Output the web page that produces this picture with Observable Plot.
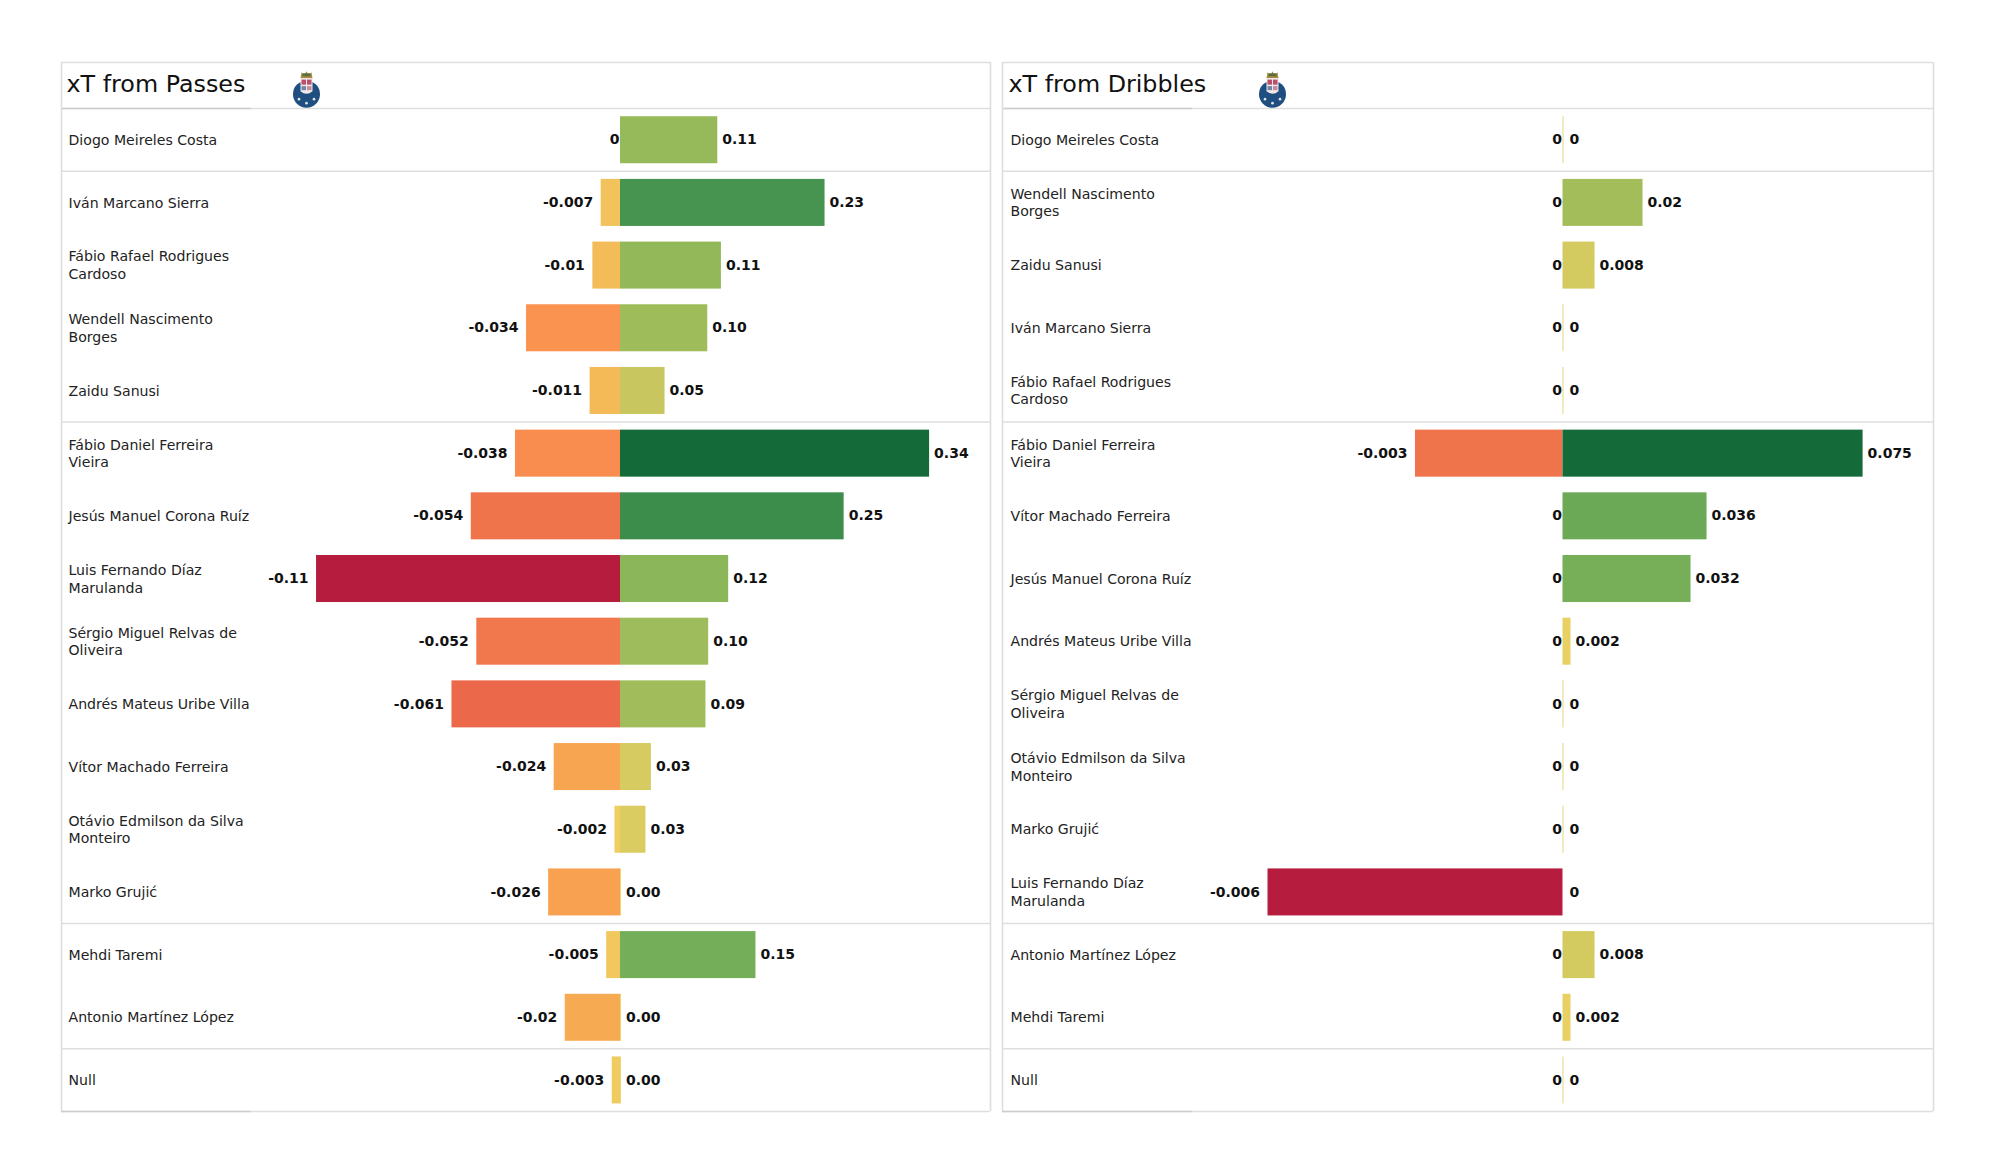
<!DOCTYPE html>
<html>
<head>
<meta charset="utf-8">
<script src="https://cdn.jsdelivr.net/npm/d3@7"></script>
<script src="https://cdn.jsdelivr.net/npm/@observablehq/plot@0.6"></script>
<style>
  html, body { margin: 0; padding: 0; background: #fff; }
  #page { position: relative; width: 2000px; height: 1175px; overflow: hidden; }
  #page svg { position: absolute; left: 0; top: 0; }
</style>
</head>
<body>
<div id="page"></div>
<script>
// Passes panel
const passNames = ["Diogo Meireles Costa","Iván Marcano Sierra","Fábio Rafael Rodrigues\nCardoso","Wendell Nascimento\nBorges","Zaidu Sanusi","Fábio Daniel Ferreira\nVieira","Jesús Manuel Corona Ruíz","Luis Fernando Díaz\nMarulanda","Sérgio Miguel Relvas de\nOliveira","Andrés Mateus Uribe Villa","Vítor Machado Ferreira","Otávio Edmilson da Silva\nMonteiro","Marko Grujić","Mehdi Taremi","Antonio Martínez López","Null"];
const passPos = [0.107,0.225,0.111,0.096,0.049,0.34,0.246,0.119,0.097,0.094,0.034,0.028,0.001,0.149,0.001,0.001];
const passNeg = [0,-0.007,-0.01,-0.034,-0.011,-0.038,-0.054,-0.11,-0.052,-0.061,-0.024,-0.002,-0.026,-0.005,-0.02,-0.003];
// Dribbles panel
const dribNames = ["Diogo Meireles Costa","Wendell Nascimento\nBorges","Zaidu Sanusi","Iván Marcano Sierra","Fábio Rafael Rodrigues\nCardoso","Fábio Daniel Ferreira\nVieira","Vítor Machado Ferreira","Jesús Manuel Corona Ruíz","Andrés Mateus Uribe Villa","Sérgio Miguel Relvas de\nOliveira","Otávio Edmilson da Silva\nMonteiro","Marko Grujić","Luis Fernando Díaz\nMarulanda","Antonio Martínez López","Mehdi Taremi","Null"];
const dribPos = [0,0.02,0.008,0,0,0.075,0.036,0.032,0.002,0,0,0,0,0.008,0.002,0];
const dribNeg = [0,0,0,0,0,-0.003,0,0,0,0,0,0,-0.006,0,0,0];
// Group dividers, as row boundaries
const dividers = [0,1,5,13,15,16];
const colorNegT = [1,0.55,0.3,0.2,0.09];
const colorNegHex = ["#b51c3e","#ec6a4a","#fb9550","#f7a851","#f3bc58"];
const colorZeroHex = "#efd264";
const colorPosT = [0.1,0.32,0.45,0.67,1];
const colorPosHex = ["#d5cb60","#94b95a","#71ad58","#44934f","#146a39"];

const crest = "data:image/svg+xml;utf8," + encodeURIComponent(
`<svg xmlns="http://www.w3.org/2000/svg" viewBox="0 0 30 38">
<circle cx="15" cy="24" r="13.5" fill="#1f4f80"/>
<path d="M9 8 L10 2 L13 5 L15 1 L17 5 L20 2 L21 8 Z" fill="#a88a45"/>
<path d="M11 3 h8 v3 h-8z" fill="#5b6f3c"/>
<path d="M9 8 H21 V21 Q15 26 9 21 Z" fill="#efe7e8"/>
<rect x="10" y="9.5" width="4.5" height="5" fill="#b8506a"/>
<rect x="15.5" y="9.5" width="4.5" height="5" fill="#b8506a"/>
<rect x="10" y="16" width="4.5" height="4" fill="#6f86a8"/>
<rect x="15.5" y="16" width="4.5" height="4" fill="#c98a9a"/>
<circle cx="7.5" cy="29" r="1.3" fill="#dfe4ea"/><circle cx="15" cy="33" r="1.3" fill="#dfe4ea"/><circle cx="22.5" cy="29" r="1.3" fill="#dfe4ea"/>
</svg>`);

function panel({title, names, pos, neg, xDomain, xRange, crestDx, textDx, zeroDx}) {
  const rows = names.map((name, i) => ({i, name, pos: pos[i], neg: neg[i]}));
  const bars = rows.flatMap(r => [{i: r.i, v: r.neg}, {i: r.i, v: r.pos}]).filter(b => b.v !== 0);
  const maxNeg = d3.min(neg), maxPos = d3.max(pos);
  const colorDomain = [...colorNegT.map(t => t * maxNeg), 0, ...colorPosT.map(t => t * maxPos)];
  const colorRange = [...colorNegHex, colorZeroHex, ...colorPosHex];
  const font = "DejaVu Sans";
  const isPass = pos === passPos;
  const fmtPos = isPass ? (v => v.toFixed(2)) : (v => String(+v.toFixed(3)));
  const fmtNeg = v => String(+v.toFixed(3));
  const [xMin, , xMax] = xDomain;
  const edgeStop = xMin * (1 - 190 / (xRange[1] - xRange[0]));
  const bold = {fontSize: 14, fontWeight: "bold", fontFamily: font, fill: "#111"};
  return Plot.plot({
    width: 2000, height: 1175,
    margin: 0,
    style: {background: "transparent"},
    x: {type: "linear", domain: xDomain, range: xRange, axis: null},
    y: {type: "linear", domain: [-0.735, 16], range: [62, 1111], axis: null},
    color: {type: "linear", domain: colorDomain, range: colorRange},
    marks: [
      Plot.ruleY(dividers.concat([-0.735]), {x1: xMin, x2: xMax, stroke: "#dedede", strokeWidth: 1.6}),
      Plot.ruleY([0, 16], {x1: xMin, x2: edgeStop, stroke: "#cdcdcd", strokeWidth: 1.6}),
      Plot.ruleX([xMin, xMax], {y1: -0.735, y2: 16, stroke: "#dedede", strokeWidth: 1.6}),
      Plot.rect(bars, {x1: 0, x2: "v", y1: d => d.i + 0.13, y2: d => d.i + 0.88, fill: "v"}),
      Plot.ruleX(rows.filter(r => r.pos === 0 && r.neg === 0), {x: 0, y1: d => d.i + 0.13, y2: d => d.i + 0.88, stroke: "#eee4a8", strokeWidth: 1.5}),
      Plot.text([title], {x: xMin, y: -0.39, text: d => d, dx: textDx - 2, textAnchor: "start", fontSize: 23.8, fontFamily: font, fill: "#111"}),
      Plot.image([crest], {x: xMin, y: -0.31, src: d => d, dx: crestDx, width: 30, height: 38}),
      Plot.text(rows, {x: xMin, y: d => d.i + 0.49, text: "name", dx: textDx, textAnchor: "start", fontSize: 14.1, lineHeight: 1.25, fontFamily: font, fill: "#222"}),
      Plot.text(rows.filter(r => r.pos > 0), {x: "pos", y: d => d.i + 0.5, text: d => fmtPos(d.pos), dx: 4.5, textAnchor: "start", ...bold}),
      Plot.text(rows.filter(r => r.pos === 0), {x: 0, y: d => d.i + 0.5, text: () => "0", dx: zeroDx, textAnchor: "start", ...bold}),
      Plot.text(rows.filter(r => r.neg < 0), {x: "neg", y: d => d.i + 0.5, text: d => fmtNeg(d.neg), dx: -8, textAnchor: "end", ...bold}),
      Plot.text(rows.filter(r => r.neg === 0), {x: 0, y: d => d.i + 0.5, text: () => "0", dx: -1, textAnchor: "end", ...bold})
    ]
  });
}

const page = document.getElementById("page");
page.append(panel({title: "xT from Passes", names: passNames, pos: passPos, neg: passNeg,
  xDomain: [-0.2023, 0, 0.407], xRange: [61, 620, 990], crestDx: 245, textDx: 7, zeroDx: 8}));
page.append(panel({title: "xT from Dribbles", names: dribNames, pos: dribPos, neg: dribNeg,
  xDomain: [-0.0114, 0, 0.0926], xRange: [1002, 1562.5, 1933], crestDx: 270, textDx: 8, zeroDx: 6.5}));
</script>
</body>
</html>
